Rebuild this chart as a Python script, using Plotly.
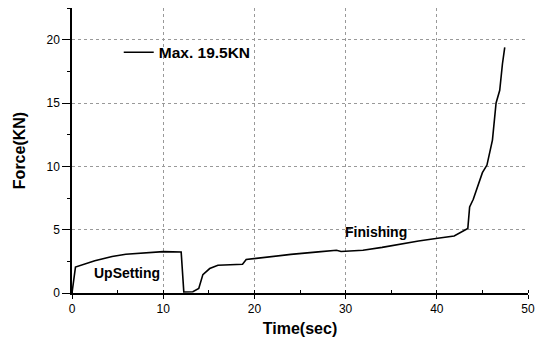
import plotly.graph_objects as go

time_s = [0, 0.38, 2.5, 4.4, 5.9, 8.1, 10.0, 11.97, 12.26, 13.25, 13.9, 14.35, 15.1, 16.0, 18.7, 19.1,
          21.3, 24.0, 27.0, 29.0, 29.5, 31.9, 34.0, 36.3, 38.0, 39.9, 41.9, 43.4, 43.6, 44.0, 44.4,
          45.0, 45.5, 46.1, 46.5, 46.9, 47.2, 47.45]
force_kn = [0, 2.05, 2.55, 2.88, 3.06, 3.2, 3.27, 3.24, 0.08, 0.1, 0.35, 1.45, 1.93, 2.19, 2.27, 2.64,
            2.85, 3.05, 3.25, 3.38, 3.28, 3.38, 3.6, 3.9, 4.1, 4.3, 4.5, 5.09, 6.8, 7.4, 8.3,
            9.5, 10.1, 12.07, 15.0, 16.0, 18.1, 19.4]

legend_label = "Max. 19.5KN"
phase_labels = ["UpSetting", "Finishing"]
phase_x = [6.0, 33.3]
phase_y = [1.55, 4.8]

FONT = "Arial, Liberation Sans, sans-serif"

fig = go.Figure()
fig.add_trace(go.Scatter(x=time_s, y=force_kn, mode="lines", name="<b>%s</b>" % legend_label,
                         line=dict(color="black", width=1.6), showlegend=True))

for t, xx, yy in zip(phase_labels, phase_x, phase_y):
    fig.add_annotation(x=xx, y=yy, text="<b>%s</b>" % t, showarrow=False,
                       font=dict(family=FONT, size=14, color="black"))

axis_common = dict(
    showline=True, linecolor="black", linewidth=1.5,
    ticks="outside", tickcolor="black", tickwidth=1,
    showgrid=True, gridcolor="#999999", griddash="dot", gridwidth=1,
    zeroline=False, automargin=False,
    tickfont=dict(family=FONT, size=12, color="black"),
)

fig.update_xaxes(range=[0, 50], dtick=10, tick0=0, ticklen=4,
                 minor=dict(dtick=5, ticks="inside", ticklen=3, tickcolor="black", showgrid=False),
                 title=dict(text="<b>Time(sec)</b>", font=dict(family=FONT, size=16, color="black"), standoff=8),
                 **axis_common)
fig.update_yaxes(range=[0, 22.5], dtick=5, tick0=0, ticklen=8,
                 minor=dict(dtick=2.5, ticks="outside", ticklen=3, tickcolor="black", showgrid=False),
                 title=dict(text="<b>Force(KN)</b>", font=dict(family=FONT, size=16, color="black"), standoff=17),
                 **axis_common)

# page has an 8px body margin, so the figure is sized to fit the 544x339 window
fig.update_layout(
    width=536, height=331,
    margin=dict(l=64, r=16, t=0, b=46),
    plot_bgcolor="white", paper_bgcolor="white",
    font=dict(family=FONT, color="black"),
    legend=dict(x=0.1025, y=0.843, xanchor="left", yanchor="middle",
                bgcolor="rgba(0,0,0,0)", borderwidth=0,
                font=dict(family=FONT, size=15.5, color="black")),
)

fig.write_html("out.html")
